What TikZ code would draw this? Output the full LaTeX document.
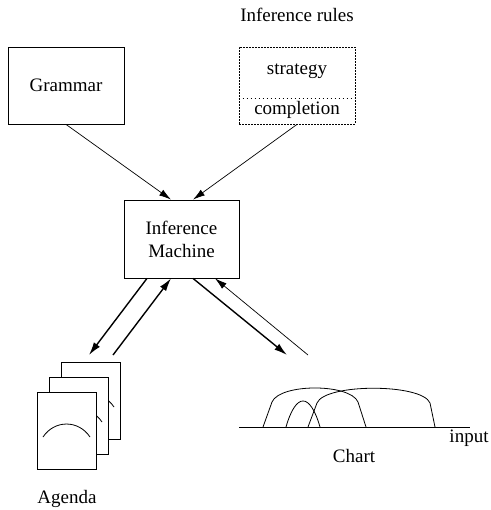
\documentclass[tikz,border=0pt]{standalone}
\usepackage{fontspec}
\setmainfont{Liberation Serif}
\usepackage{tikz}
\usetikzlibrary{arrows.meta, positioning, calc}

\begin{document}
\begin{tikzpicture}[
  x=1pt, y=-1pt,
  every node/.style={font=\fontsize{19}{23}\selectfont},
  box/.style={rectangle, draw=black, line width=0.8pt, minimum width=116, minimum height=77, align=center},
  page/.style={rectangle, draw=black, line width=0.8pt, fill=white, minimum width=59, minimum height=77},
  arr/.style={-{Latex[length=12pt, width=7pt]}, line width=0.7pt},
  thk/.style={-{Latex[length=13pt, width=7.5pt]}, line width=1.4pt},
  edge/.style={line width=0.8pt}
]
  \useasboundingbox (0,0) rectangle (490,510);

  \node[box] (gram) at (66,85.5) {Grammar};
  \node[box, dash pattern=on 2pt off 1pt] (rules) at (297,85.5) {};
  \node (strat) at (297,71) {strategy};
  \node (compl) at (297,110) {completion};
  \draw[dash pattern=on 1.5pt off 2.5pt, line width=0.9pt] (rules.west |- 0,98) -- (rules.east |- 0,98);
  \node (rlabel) at (297,15) {Inference rules};

  \node[box, minimum width=115, minimum height=78] (im) at (181.5,239) {Inference\\Machine};

  \draw[arr] (gram.south) -- ([xshift=-10.5]im.north);
  \draw[arr] (rules.south) -- ([xshift=11.5]im.north);

  \foreach \i/\dx/\dy in {3/24/-30, 2/12/-15, 1/0/0}{
    \node[page] (page\i) at (66.5+\dx,430.5+\dy) {};
    \draw[edge] ($(page\i.center)+(-23.5,6.5)$) .. controls +(11.5,-17.3) and +(-11.5,-17.3) .. ($(page\i.center)+(23.5,6.5)$);
  }
  \node (agenda) at (67,499) {Agenda};

  \coordinate (ag1) at (89,355);
  \coordinate (ag2) at (113,355);
  \coordinate (ch1) at (287,355);
  \coordinate (ch2) at (308,355);

  \draw[thk] ([xshift=-34.5]im.south) -- (ag1);
  \draw[thk] (ag2) -- ([xshift=-10.5]im.south);
  \draw[thk] ([xshift=11.5]im.south) -- (ch1);
  \draw[arr] (ch2) -- ([xshift=33.5]im.south);

  \draw[edge] (239,427) -- (470,427);
  \draw[edge] (263,427) -- (272,402) .. controls (280,383.3) and (350,383.3) .. (358,402) -- (366,427);
  \draw[edge] (308,427) -- (317,403) .. controls (325,383.3) and (422,383.3) .. (430,403) -- (435,427);
  \draw[edge] (286,427) .. controls (296,392.3) and (310,392.3) .. (320,427);
  \node (input) at (469,438) {input};
  \node (chart) at (354,456) {Chart};
\end{tikzpicture}
\end{document}
